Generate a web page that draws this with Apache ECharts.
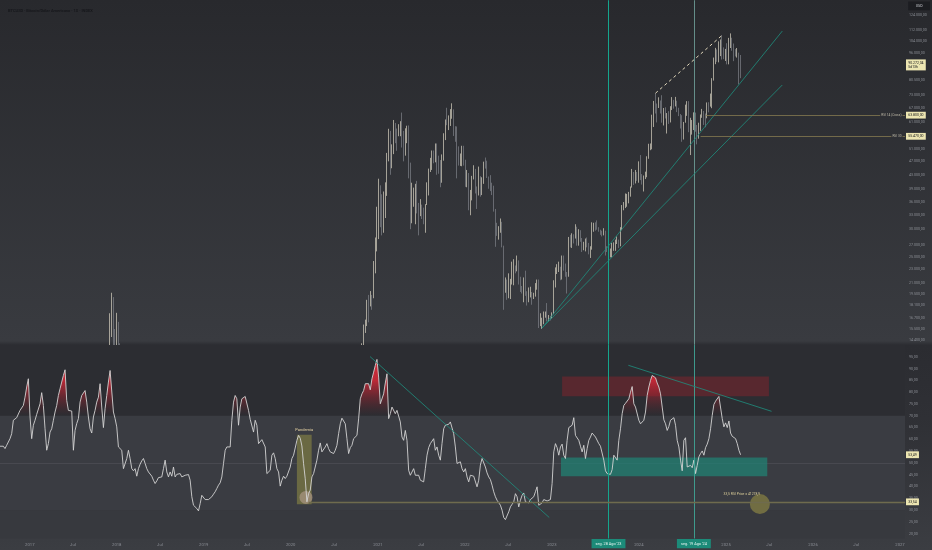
<!DOCTYPE html>
<html><head><meta charset="utf-8">
<script src="https://cdn.jsdelivr.net/npm/echarts@6/dist/echarts.min.js"></script>
<style>html,body{margin:0;padding:0;background:#303136;}#c{width:932px;height:550px;}</style>
</head><body><div id="c"></div>
<script>
const FONT = 'Roboto, "Noto Sans", sans-serif';
const DAY = 86400000, WEEK = 7 * DAY;
function t(s) { const p = s.split('-'); return Date.UTC(+p[0], +p[1] - 1, +p[2]); }

// ---- Weekly RSI(14), first bar week of 2016-08-29 ----
const rsiStart = '2016-08-29';
const rsi = [
57.1,57.1,57.1,56.1,57.5,58.2,60.3,62.4,68.1,67.6,69.2,69.5,
72.3,73.0,74.4,77.9,82.2,85.7,69.5,60.3,66.0,68.1,70.6,70.2,
75.1,79.8,74.4,64.5,55.4,58.2,63.1,64.5,68.1,71.6,74.4,78.6,
81.5,84.3,87.1,89.5,76.5,72.3,72.3,72.0,55.4,63.8,66.7,68.8,
75.8,78.6,79.3,80.7,75.8,69.5,64.5,62.7,69.5,72.3,75.8,77.9,
83.6,73.7,65.0,73.0,78.6,84.3,89.2,89.5,71.6,68.8,65.3,56.8,
56.1,55.4,47.6,47.6,51.9,55.4,51.9,47.6,46.7,47.6,44.4,47.6,
49.5,50.9,51.9,49.8,47.6,46.2,45.5,44.4,42.7,41.3,42.4,43.8,
43.0,44.1,47.6,51.2,46.2,44.1,46.2,44.4,48.3,44.1,45.2,45.8,
45.5,44.1,44.8,44.8,44.8,45.1,42.7,35.7,32.1,32.8,30.7,29.7,
32.8,36.3,35.7,34.5,34.9,34.5,34.2,35.7,36.8,37.8,39.2,40.6,
41.6,44.1,49.8,55.4,56.8,57.1,56.8,68.1,75.8,78.6,77.2,66.0,
73.7,77.2,76.8,78.2,78.9,72.3,68.5,68.8,63.1,68.1,66.0,58.2,
58.2,59.9,59.6,56.8,45.5,44.8,46.9,53.3,54.3,51.9,47.6,46.2,
40.2,42.7,44.4,43.4,44.4,44.8,48.3,51.9,53.3,54.0,59.6,61.7,
60.5,57.2,49.7,43.3,33.54,37.0,38.5,44.1,45.5,46.2,51.2,55.4,
58.5,54.7,55.4,56.8,58.2,56.1,54.7,54.7,54.0,55.4,57.5,62.4,
66.6,69.0,69.2,66.6,60.3,54.0,56.5,57.5,60.3,61.0,61.7,68.7,
77.2,79.3,80.7,83.6,82.9,83.6,81.0,85.7,88.5,91.3,93.9,86.4,
75.1,75.8,79.3,83.9,87.8,68.8,70.9,73.7,73.0,70.9,72.3,71.6,
67.4,61.0,59.6,63.8,59.6,46.9,44.8,45.5,47.6,44.8,44.1,44.8,
42.7,42.7,42.0,47.6,53.3,56.5,58.2,58.9,60.3,55.4,56.8,53.3,
51.2,58.2,64.5,66.0,65.5,66.4,67.4,68.1,62.4,56.8,49.8,49.8,
50.5,47.6,46.2,47.6,44.1,42.0,44.8,45.5,44.4,44.1,39.9,42.7,
49.1,51.9,52.6,48.3,45.8,44.1,43.0,40.6,37.8,35.7,34.2,33.8,
32.1,30.0,26.9,26.0,26.4,29.3,31.4,32.5,33.5,37.0,35.7,31.4,
34.2,36.3,37.3,33.5,34.2,33.1,34.5,34.9,35.7,37.8,39.9,32.1,
32.1,33.1,34.5,34.2,33.9,33.5,34.5,41.3,54.7,58.2,56.5,53.3,
56.8,58.0,53.3,51.9,59.6,65.0,65.0,66.0,69.2,61.7,61.7,59.6,
57.1,54.7,57.5,51.9,56.1,59.6,61.0,62.7,62.1,61.0,60.7,58.2,
57.1,56.5,51.2,46.7,45.5,44.8,45.2,47.2,53.3,52.6,51.2,59.6,
64.5,70.9,74.4,75.3,75.8,77.2,80.0,82.4,75.1,73.7,74.4,68.1,
66.6,66.4,68.1,71.6,78.6,82.2,85.0,87.1,87.8,86.1,83.9,82.2,
79.3,73.7,68.3,66.6,63.8,65.5,68.1,68.8,69.2,66.0,59.6,56.8,
51.2,46.7,59.6,60.7,48.3,48.6,49.0,48.0,51.2,45.5,49.0,52.6,
54.0,55.1,53.3,56.5,58.0,60.3,64.5,70.2,74.8,76.2,76.8,78.2,
78.6,68.8,65.3,67.0,65.0,67.8,62.7,61.3,61.0,60.3,58.2,55.4,
53.49
];

// ---- Weekly candles, thousand USD: [open, high, low, close] ----
const spikeStart = '2017-12-04';
const spikeOHLC = [
[11.25,17.2,11.1,15.05],[15.05,19.7,14.7,19.14],[19.14,19.14,10.8,13.9],[13.9,15.5,12.1,13.85],
[13.85,17.25,12.8,16.2],[16.2,16.25,12.9,13.65],[13.65,14.1,9.0,11.6]
];
const rallyStart = '2020-10-26';
const rallyOHLC = [
[13.03,14.1,12.9,13.8],[13.8,15.96,13.3,15.48],[15.48,16.49,15.1,15.96],[15.96,18.8,15.8,18.68],
[18.68,19.42,16.2,18.18],[18.18,19.92,18.0,19.35],[19.35,19.42,17.6,19.15],
[19.15,24.3,19.0,23.8],[23.8,28.4,22.4,26.3],[26.3,34.8,25.9,33.0],[33.0,41.9,28.1,38.2],
[38.2,40.1,30.4,35.8],[35.8,37.8,28.8,32.3],[32.3,38.5,29.3,33.1],[33.1,40.9,32.3,39.2],
[39.2,49.7,37.4,48.6],[48.6,58.3,47.0,57.4],[57.4,57.5,43.0,45.1],[45.1,52.6,44.9,50.9],
[50.9,61.8,49.3,59.0],[59.0,60.6,53.0,57.4],[57.4,58.4,50.4,55.8],[55.8,60.1,55.5,57.1],
[57.1,61.3,55.5,59.9],[59.9,64.9,51.5,56.2],[56.2,57.5,47.0,49.1],[49.1,58.5,48.8,57.8],
[57.8,59.5,53.0,58.2],[58.2,59.6,42.0,46.4],[46.4,46.6,30.0,34.7],[34.7,40.8,31.2,35.6],
[35.6,39.5,34.8,35.8],[35.8,40.5,31.0,39.1],[39.1,41.3,33.3,35.6],[35.6,35.7,28.8,34.7],
[34.7,36.6,32.7,35.3],[35.3,35.3,32.1,34.2],[34.2,34.6,31.0,31.8],[31.8,35.4,29.3,35.4],
[35.4,40.9,35.2,39.9],[39.9,44.8,37.5,44.6],[44.6,48.1,43.8,47.0],[47.0,50.5,44.4,49.4],
[49.4,50.5,46.4,48.8],[48.8,52.9,46.7,51.8],[51.8,52.9,43.0,48.3],[48.3,48.8,43.3,47.3],
[47.3,47.4,39.6,43.2],[43.2,49.2,40.8,48.2],[48.2,56.6,47.2,54.7],[54.7,62.0,54.1,61.5],
[61.5,67.0,59.7,61.3],[61.3,63.7,57.8,61.3],[61.3,66.4,59.4,64.9],[64.9,69.0,62.3,65.5],
[65.5,66.3,55.6,58.7],[58.7,59.3,53.5,57.2],[57.2,59.2,42.0,49.4],[49.4,51.9,45.7,46.7],
[46.7,49.5,45.6,46.7],[46.7,52.1,45.5,50.8],[50.8,52.1,45.7,47.3],[47.3,47.5,39.7,41.9],
[41.9,44.4,39.6,43.1],[43.1,43.5,34.0,36.3],[36.3,38.9,32.9,37.9],[37.9,42.7,36.3,42.2],
[42.2,45.8,41.7,42.2],[42.2,44.7,38.0,38.4],[38.4,39.8,34.3,37.7],[37.7,45.4,37.5,38.0],
[38.0,42.6,37.2,37.8],[37.8,42.3,37.6,41.3],[41.3,46.9,40.5,46.8],[46.8,48.2,44.8,46.4],
[46.4,47.2,42.1,42.2],[42.2,42.5,39.2,40.4],[40.4,42.9,38.6,39.5],[39.5,40.8,37.6,37.7],
[37.7,40.0,33.7,34.1],[34.1,34.3,26.7,31.3],[31.3,31.3,28.7,29.4],[29.4,30.6,28.0,29.4],
[29.4,32.2,29.3,29.9],[29.9,31.5,26.6,26.6],[26.6,26.9,17.6,20.5],[20.5,21.8,19.7,21.0],
[21.0,21.5,18.8,19.3],[19.3,22.4,19.0,20.8],[20.8,21.6,18.9,20.8],[20.8,24.2,20.8,22.6],
[22.6,24.6,20.7,23.3],[23.3,23.6,22.4,23.2],[23.2,25.2,22.7,24.3],[24.3,24.4,20.8,21.5],
[21.5,21.9,19.8,20.0],[20.0,20.6,19.6,19.8],[19.8,21.8,18.5,21.8],[21.8,22.8,19.3,19.4],
[19.4,19.9,18.1,18.8],[18.8,20.4,18.5,19.3],[19.3,20.5,19.1,19.4],[19.4,19.8,18.2,19.2],
[19.2,19.7,18.9,19.6],[19.6,21.0,19.2,20.6],[20.6,21.5,20.1,21.3],[21.3,21.5,15.6,16.3],
[16.3,17.2,15.8,16.3],[16.3,16.7,15.5,16.4],[16.4,17.4,16.0,17.1],[17.1,17.4,16.7,17.1],
[17.1,18.4,16.3,16.8],[16.8,17.0,16.3,16.8],[16.8,16.9,16.4,16.6],[16.6,17.3,16.6,17.1],
[17.1,21.4,17.1,21.2],[21.2,23.3,20.4,22.7],[22.7,23.8,22.3,23.0],[23.0,24.2,22.6,23.3],
[23.3,23.4,21.4,21.8],[21.8,25.2,21.5,24.3],[24.3,25.2,22.8,23.5],[23.5,23.9,21.9,22.4],
[22.4,22.6,19.6,22.0],[22.0,28.5,21.9,28.0],[28.0,28.9,26.6,27.9],[27.9,29.2,26.5,28.4],
[28.4,29.0,27.3,28.3],[28.3,31.0,28.2,30.3],[30.3,30.5,26.9,27.6],[27.6,30.0,26.9,29.2],
[29.2,29.8,27.6,27.7],[27.7,28.3,25.8,26.8],[26.8,27.6,26.1,26.8],[26.8,28.2,25.9,28.1],
[28.1,28.4,26.6,27.1],[27.1,27.4,25.4,25.9],[25.9,26.8,24.8,26.3],[26.3,31.4,26.2,30.5],
[30.5,31.3,29.5,30.6],[30.6,31.4,29.7,30.3],[30.3,31.8,29.9,30.2],[30.2,30.4,29.5,29.9],
[29.9,29.9,28.9,29.3],[29.3,29.7,28.6,29.0],[29.0,30.2,28.8,29.4],[29.4,29.7,25.2,26.1],
[26.1,26.8,25.8,26.0],[26.0,28.1,25.4,25.8],[25.8,26.4,24.9,25.8],[25.8,27.4,24.9,26.5],
[26.5,27.5,26.0,26.6],[26.6,28.0,26.0,27.9],[27.9,28.6,27.2,27.9],[27.9,28.0,26.5,26.9],
[26.9,30.4,26.8,30.0],[30.0,35.2,29.8,34.5],[34.5,35.9,34.0,35.0],[35.0,38.0,34.5,37.1],
[37.1,37.9,34.8,37.4],[37.4,38.4,35.6,37.8],[37.8,39.8,37.2,39.5],[39.5,44.7,39.5,43.8],
[43.8,43.8,40.2,41.4],[41.4,44.4,40.6,43.0],[43.0,43.8,41.3,42.3],[42.3,47.0,40.8,43.9],
[43.9,49.0,41.5,41.7],[41.7,43.2,40.3,41.6],[41.6,42.8,38.5,42.0],[42.0,43.9,41.8,42.6],
[42.6,48.6,42.3,48.3],[48.3,52.8,47.8,51.6],[51.6,52.9,50.6,51.7],[51.7,64.0,50.9,63.1],
[63.1,70.1,59.0,68.9],[68.9,73.8,64.5,68.4],[68.4,68.9,60.8,67.2],[67.2,71.8,66.9,69.6],
[69.6,70.3,64.5,69.3],[69.3,72.8,60.7,64.0],[64.0,66.9,59.6,64.9],[64.9,67.2,62.4,63.1],
[63.1,64.7,56.5,64.0],[64.0,65.5,60.2,61.5],[61.5,67.7,60.8,66.3],[66.3,71.9,66.0,69.3],
[69.3,70.6,66.6,67.8],[67.8,72.0,67.6,69.6],[69.6,70.2,65.1,66.2],[66.2,67.0,63.4,64.2],
[64.2,64.3,58.4,62.9],[62.9,63.8,53.5,57.9],[57.9,61.0,54.3,60.8],[60.8,68.4,60.7,68.2],
[68.2,70.0,63.5,68.3],[68.3,70.0,57.0,58.1],[58.1,62.7,49.0,58.7],[58.7,61.8,56.1,58.9],
[58.9,65.0,57.8,64.2],[64.2,64.9,57.2,57.3],[57.3,59.8,52.6,54.8],[54.8,60.7,54.6,59.1],
[59.1,64.1,57.5,63.6],[63.6,66.5,62.7,65.6],[65.6,65.6,59.8,62.9],[62.9,64.5,58.9,62.8],
[62.8,69.4,62.5,69.0],[69.0,69.5,65.0,68.0],[68.0,73.6,67.5,68.7],[68.7,81.5,66.8,80.4],
[80.4,93.4,80.2,89.9],[89.9,99.6,89.4,98.0],[98.0,98.6,90.8,97.2],[97.2,104.0,90.5,101.1],
[101.1,105.3,94.3,104.5],[104.5,108.3,92.2,95.2],[95.2,99.9,92.4,93.7],[93.7,98.9,91.3,98.3],
[98.3,102.7,89.3,94.5],[94.5,106.4,89.3,101.3],[101.3,109.6,99.5,104.7],[104.7,106.5,97.7,97.7],
[97.7,102.5,91.2,96.5],[96.5,98.8,94.1,96.1],[96.1,99.5,93.4,96.2],[96.2,96.5,78.2,94.2],
[94.2,95.0,81.5,90.27204]
];

// ---- Axis tick labels ----
const priceTicks = [14400,15500,16700,18100,19500,21000,23000,25000,27000,30000,33000,36000,39000,43000,47000,51000,61000,67000,73000,80500,96000,104000,112000,124000];
const rsiTicks = [20,25,30,35,40,45,50,55,60,65,70,75,80,85,90,95];
const yearLabels = ['2017','2018','2019','2020','2021','2022','2023','2024','2025','2026','2027'];
const midYearLabel = 'Jul';

// ---- Annotations ----
const lastPrice = 90272.04, lastPriceText = '90.272,04', countdown = '5d13h';
const rsiLast = 53.49;
const rsi14Cross = 63800, rsi30Price = 55470;
const rsiLow = 33.54;

// ---------------------------------------------------------------
function fmtBR(v, d) {
  const s = v.toFixed(d); const parts = s.split('.');
  const ip = parts[0].replace(/\B(?=(\d{3})+(?!\d))/g, '.');
  return parts[1] ? ip + ',' + parts[1] : ip;
}
function buildCandles(start, rows) {
  const s = t(start);
  return rows.map((r, i) => [s + i * WEEK, r[0] * 1000, r[3] * 1000, r[2] * 1000, r[1] * 1000]);
}
const candles = buildCandles(spikeStart, spikeOHLC).concat(buildCandles(rallyStart, rallyOHLC));
const rsiData = rsi.map((v, i) => [t(rsiStart) + i * WEEK, v]);

const xMin = t('2016-08-29'), xMax = t('2027-01-22');
const pMin = 13942, pMax = 136700, rMin = 18, rMax = 100;
const xTickVals = [];
yearLabels.forEach((y, k) => {
  xTickVals.push(Date.UTC(+y, 0, 1));
  if (k < yearLabels.length - 1) xTickVals.push(Date.UTC(+y, 6, 1));
});

const AX = '#8b8e95';
const TEAL1 = '#14a58d', TEAL2 = '#74a8a1', TREND = '#1e8f7f', KHAKI = '#857a50';
const box = (txt, extra) => Object.assign({
  show: true, position: 'end', formatter: txt, backgroundColor: '#ece5b1', color: '#15161a',
  fontSize: 3.5, fontFamily: FONT, padding: [1.3, 2.2], distance: 1, lineHeight: 4.2, opacity: 1
}, extra || {});
const NOLINE = { width: 0, color: 'rgba(0,0,0,0)', opacity: 1 };
const OFF = { show: false };
const dateBox = (txt) => ({
  show: true, position: 'start', formatter: txt, backgroundColor: '#1c8b79', color: '#e8f6f3',
  fontSize: 3.8, fontFamily: FONT, padding: [2.6, 4], distance: 0.5, opacity: 1
});
const seg = (x1, y1, x2, y2, lineStyle, label) => ({
  coords: [[x1, y1], [x2, y2]], lineStyle: Object.assign({ opacity: 1, type: 'solid' }, lineStyle), label: label || OFF
});
const lineTag = (txt, bg) => ({ show: true, position: 'insideEnd', formatter: txt, color: '#bdb8a6', fontSize: 3.2,
  fontFamily: FONT, distance: 2.5, backgroundColor: bg, padding: [0.5, 1], opacity: 1 });
// vertical markers nudged onto the pixel grid so they render crisp
const v1 = t('2023-08-28') - 1.3 * DAY, v2 = t('2024-08-19');

const priceAnn = [
  seg(v1, 13960, v1, 136500, { color: TEAL1, width: 1 }),
  seg(v2, 13960, v2, 136500, { color: TEAL2, width: 0.8 }),
  seg(t('2022-11-20'), 15580, t('2025-08-25'), 111300, { color: TREND, width: 0.8 }),
  seg(t('2022-11-20'), 15580, t('2025-08-25'), 77900, { color: TREND, width: 0.8 }),
  seg(t('2024-03-11'), 73800, t('2024-12-16'), 108300, { color: '#e3d9bd', width: 1, type: [3, 3] }),
  seg(t('2024-10-07'), rsi14Cross, xMax, rsi14Cross, { color: KHAKI, width: 0.8 }, lineTag('RSI 14 (Cross)', '#2e2f34')),
  seg(t('2024-09-16'), rsi30Price, xMax, rsi30Price, { color: KHAKI, width: 0.8 }, lineTag('RSI 30', '#2f3035')),
  seg(t('2026-12-01'), rsi14Cross, xMax, rsi14Cross, NOLINE, box(fmtBR(rsi14Cross, 2))),
  seg(t('2026-12-01'), rsi30Price, xMax, rsi30Price, NOLINE, box(fmtBR(rsi30Price, 2))),
  seg(t('2026-12-01'), lastPrice, xMax, lastPrice, NOLINE, box(lastPriceText + '\n' + countdown, { offset: [0, 2.2] }))
];
const rsiAnn = [
  seg(v1, 18.01, v1, 99.99, { color: TEAL1, width: 1 }, dateBox("seg. 28 Ago '23")),
  seg(v2, 18.01, v2, 99.99, { color: '#3fa696', width: 0.9 }, dateBox("seg. 19 Ago '24")),
  seg(t('2020-11-29'), 95.1, t('2022-12-21'), 26.9, { color: TREND, width: 0.8 }),
  seg(t('2023-11-18'), 91.4, t('2025-07-11'), 71.9, { color: TREND, width: 0.8 }),
  seg(t('2020-03-16'), rsiLow, xMax, rsiLow, { color: '#6f6b4e', width: 1.3 }, box(fmtBR(rsiLow, 2))),
  seg(t('2026-12-01'), rsiLast, xMax, rsiLast, NOLINE, box(fmtBR(rsiLast, 2)))
];

const chart = echarts.init(document.getElementById('c'), null, { renderer: 'canvas' });
chart.setOption({
  animation: false,
  backgroundColor: new echarts.graphic.LinearGradient(0, 0, 0, 1, [
    { offset: 0, color: '#28292d' }, { offset: 0.62, color: '#393b40' },
    { offset: 0.6275, color: '#2b2c31' }, { offset: 0.76, color: '#2f3035' },
    { offset: 1, color: '#3b3d42' }
  ]),
  textStyle: { fontFamily: FONT },
  title: [
    { text: 'BTCUSD · Bitcoin/Dólar Americano · 1S · INDEX', left: 3, top: 4,
      textStyle: { fontSize: 4, color: '#16171b', fontWeight: 600, fontFamily: FONT } },
    { text: 'USD', right: 2, top: 1.5, backgroundColor: '#1c1d21', padding: [2.4, 7.5, 2.4, 7.5],
      textStyle: { fontSize: 3.6, color: '#c9cbd0', fontWeight: 400, fontFamily: FONT } }
  ],
  grid: [
    { left: 0, right: 27, top: 0, height: 345 },
    { left: 0, right: 27, top: 345, height: 193.5 }
  ],
  xAxis: [
    { type: 'value', gridIndex: 0, min: xMin, max: xMax, axisLabel: { show: false },
      axisTick: { show: false }, axisLine: { show: false }, splitLine: { show: false } },
    { type: 'value', gridIndex: 1, min: xMin, max: xMax,
      axisLabel: { customValues: xTickVals, fontSize: 4.2, color: AX, margin: 4.5, fontFamily: FONT,
        formatter: (v) => { const d = new Date(v); return d.getUTCMonth() === 0 ? String(d.getUTCFullYear()) : midYearLabel; } },
      axisTick: { show: false }, axisLine: { show: false }, splitLine: { show: false } }
  ],
  yAxis: [
    { type: 'log', logBase: 10, gridIndex: 0, position: 'right', min: pMin, max: pMax,
      axisLabel: { customValues: priceTicks, fontSize: 3.6, color: AX, margin: 4, fontFamily: FONT,
        formatter: (v) => fmtBR(v, 2) },
      axisTick: { show: false }, axisLine: { show: false }, splitLine: { show: false } },
    { type: 'value', gridIndex: 1, position: 'right', min: rMin, max: rMax,
      axisLabel: { customValues: rsiTicks, fontSize: 3.6, color: AX, margin: 4, fontFamily: FONT,
        formatter: (v) => fmtBR(v, 2) },
      axisTick: { show: false }, axisLine: { show: false }, splitLine: { show: false } }
  ],
  visualMap: [{
    type: 'continuous', show: false, seriesIndex: 2, dimension: 1, min: 70, max: 100,
    inRange: { color: ['rgba(110,30,40,0)', 'rgba(205,40,55,0.9)', 'rgba(225,50,62,1)'] },
    outOfRange: { color: 'rgba(0,0,0,0)' }
  }],
  series: [
    {
      type: 'candlestick', xAxisIndex: 0, yAxisIndex: 0, data: candles, barWidth: 1, clip: true, z: 2,
      itemStyle: { color: '#d8d3c1', color0: '#7f828a', borderColor: '#d8d3c1', borderColor0: '#7f828a', borderWidth: 0.7 }
    },
    {
      // RSI panel background bands (also masks anything spilling from the price pane)
      type: 'line', xAxisIndex: 1, yAxisIndex: 1, data: rsiData, symbol: 'none', silent: true, z: 3,
      lineStyle: { opacity: 0 },
      markArea: {
        silent: true, z: 3, label: { show: false },
        data: [
          [{ yAxis: 70, itemStyle: { color: '#2c2d32' } }, { yAxis: 100 }],
          [{ yAxis: 30, itemStyle: { color: '#3a3c42' } }, { yAxis: 70 }],
          [{ yAxis: 18, itemStyle: { color: '#37393e' } }, { yAxis: 30 }]
        ]
      }
    },
    {
      // overbought fill + zone boxes
      type: 'line', xAxisIndex: 1, yAxisIndex: 1, data: rsiData, symbol: 'none', silent: true, z: 5,
      lineStyle: { width: 0 }, areaStyle: { opacity: 1 },
      markArea: {
        silent: true, z: 4,
        data: [
          [{ xAxis: t('2023-02-13'), yAxis: 86.7, itemStyle: { color: 'rgba(125,36,46,0.55)' } }, { xAxis: t('2025-06-30'), yAxis: 78.3 }],
          [{ xAxis: t('2023-02-08'), yAxis: 52.3, itemStyle: { color: 'rgba(32,132,118,0.7)' } }, { xAxis: t('2025-06-23'), yAxis: 44.4 }],
          [{ xAxis: t('2020-01-27'), yAxis: 62.0, itemStyle: { color: 'rgba(112,110,68,0.9)' },
             label: { show: true, position: 'top', formatter: 'Pandemia', color: '#e6d3a3', fontSize: 4, fontFamily: FONT, distance: 3 } },
           { xAxis: t('2020-03-29'), yAxis: 32.5 }]
        ]
      }
    },
    {
      type: 'lines', coordinateSystem: 'cartesian2d', xAxisIndex: 1, yAxisIndex: 1, silent: true, z: 3.5, clip: false,
      data: [seg(xMin, 50, xMax, 50, { color: '#4b4d54', width: 0.8 })]
    },
    {
      type: 'line', xAxisIndex: 1, yAxisIndex: 1, data: rsiData, symbol: 'none', z: 6, silent: true,
      lineStyle: { color: '#d4d4d4', width: 0.9 },
      markPoint: {
        silent: true, animation: false,
        data: [
          { coord: [t('2020-03-05'), 35.4], symbol: 'circle', symbolSize: 13,
            itemStyle: { color: 'rgba(168,148,128,0.75)' }, label: { show: false } },
          { coord: [t('2025-05-23'), 32.6], symbol: 'circle', symbolSize: 20,
            itemStyle: { color: 'rgba(118,114,66,0.92)' }, label: { show: false } },
          { coord: [t('2025-03-08'), 36.8], symbol: 'circle', symbolSize: 0,
            label: { show: true, position: 'inside', formatter: '33,5 RSI Price = 41278,9', color: '#d9cc98', fontSize: 3.4, fontFamily: FONT } }
        ]
      }
    },
    {
      type: 'lines', coordinateSystem: 'cartesian2d', xAxisIndex: 0, yAxisIndex: 0, silent: true, z: 7, clip: false,
      lineStyle: { opacity: 1 }, data: priceAnn
    },
    {
      type: 'lines', coordinateSystem: 'cartesian2d', xAxisIndex: 1, yAxisIndex: 1, silent: true, z: 7, clip: false,
      lineStyle: { opacity: 1 }, data: rsiAnn
    }
  ]
});
</script>
</body></html>
